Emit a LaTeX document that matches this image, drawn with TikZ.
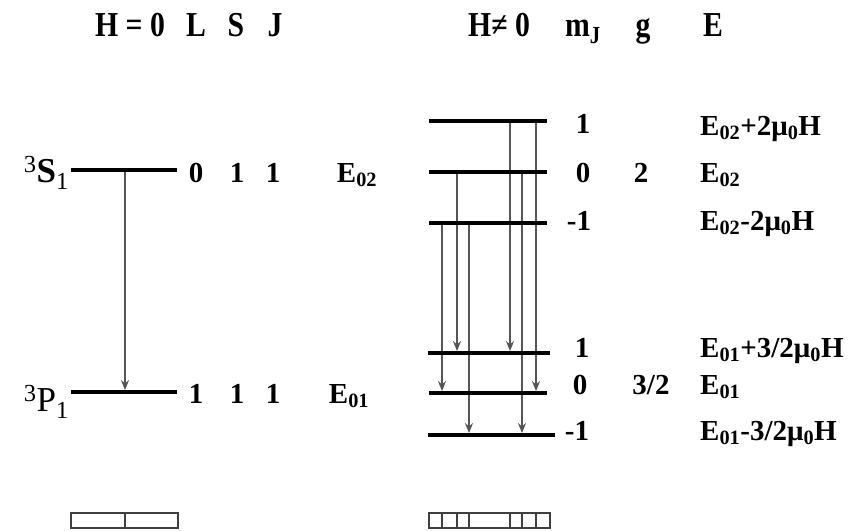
\documentclass[tikz,border=0pt]{standalone}
\usepackage{fontspec}
\setmainfont{Liberation Serif}
\newfontfamily\headfont[FakeStretch=0.85]{Liberation Serif}
\usepackage{xcolor}
\usetikzlibrary{arrows.meta, calc, backgrounds}
\definecolor{ink}{HTML}{000000}
\definecolor{trans}{HTML}{555555}

\begin{document}
\begin{tikzpicture}[x=1pt, y=-1pt,
  lvl/.style={fill=ink, inner sep=0pt, minimum height=3.4pt},
  hd/.style={font=\headfont\bfseries\fontsize{35}{37}\selectfont, anchor=base, inner sep=0pt},
  nm/.style={font=\bfseries\fontsize{29}{31}\selectfont, anchor=base, inner sep=0pt},
  en/.style={nm, anchor=base west},
  term/.style={font=\fontsize{35}{37}\selectfont, anchor=base east, inner sep=0pt},
  arr/.style={-{Stealth[length=10pt, width=8pt]}, line width=1.6pt, draw=trans, fill=trans},
  spec/.style={draw=ink!75, line width=2.2pt, inner sep=0pt}
]
\useasboundingbox (0,0) rectangle (850,530);

% column heads
\node[hd] (hzero) at (130,36) {H = 0};
\node[hd] (hL) at (196,36) {L};
\node[hd] (hS) at (236,36) {S};
\node[hd] (hJ) at (275,36) {J};
\node[hd] (hfield) at (499,36) {H≠ 0};
\node[hd] (hmj) at (583,36) {m\textsubscript{J}};
\node[hd] (hg) at (643,36) {g};
\node[hd] (hE) at (713,36) {E};

% levels without field
\node[lvl, minimum width=106pt] (S1) at (124,170) {};
\node[lvl, minimum width=106pt] (P1) at (124,392) {};
\node[term] (termS) at (69,182) {\textsuperscript{3}\textbf{S}\textsubscript{1}};
\node[term] (termP) at (69,411) {\textsuperscript{3}P\textsubscript{1}};

\node[nm] (sL) at (196,182) {0};
\node[nm] (sS) at (237,182) {1};
\node[nm] (sJ) at (273,182) {1};
\node[nm] (sE) at (357,182) {E\textsubscript{02}};
\node[nm] (pL) at (196,403) {1};
\node[nm] (pS) at (237,403) {1};
\node[nm] (pJ) at (273,403) {1};
\node[nm] (pE) at (349,403) {E\textsubscript{01}};

% split levels
\node[lvl, minimum width=118pt] (up) at (488,121) {};
\node[lvl, minimum width=118pt] (u0) at (488,172) {};
\node[lvl, minimum width=118pt] (um) at (488,223) {};
\node[lvl, minimum width=122pt] (lp) at (489,353) {};
\node[lvl, minimum width=118pt] (l0) at (488,393) {};
\node[lvl, minimum width=127pt] (lm) at (491.5,435) {};

\node[nm] (mup) at (583,133) {1};
\node[nm] (mu0) at (583,182) {0};
\node[nm] (mum) at (579,230) {-1};
\node[nm] (gu) at (641,182) {2};
\node[en] (Eup) at (700,135) {E\textsubscript{02}+2μ\textsubscript{0}H};
\node[en] (Eu0) at (700,182) {E\textsubscript{02}};
\node[en] (Eum) at (700,230) {E\textsubscript{02}-2μ\textsubscript{0}H};

\node[nm] (mlp) at (582,357) {1};
\node[nm] (ml0) at (580,394) {0};
\node[nm] (mlm) at (577,440) {-1};
\node[nm] (gl) at (651,394) {3/2};
\node[en] (Elp) at (700,357) {E\textsubscript{01}+3/2μ\textsubscript{0}H};
\node[en] (El0) at (700,394) {E\textsubscript{01}};
\node[en] (Elm) at (700,440) {E\textsubscript{01}-3/2μ\textsubscript{0}H};

% transitions
\coordinate (t0) at (125,0);
\coordinate (ta) at (442,0);
\coordinate (tb) at (457,0);
\coordinate (tc) at (469,0);
\coordinate (td) at (510,0);
\coordinate (te) at (522,0);
\coordinate (tf) at (536,0);

\begin{scope}[on background layer]
\draw[arr] (t0 |- S1.south) -- (t0 |- P1.north);
\draw[arr] (ta |- um.south) -- (ta |- l0.north);
\draw[arr] (tb |- u0.south) -- (tb |- lp.north);
\draw[arr] (tc |- um.south) -- (tc |- lm.north);
\draw[arr] (td |- up.south) -- (td |- lp.north);
\draw[arr] (te |- u0.south) -- (te |- lm.north);
\draw[arr] (tf |- up.south) -- (tf |- l0.north);
\end{scope}

% spectra
\node[spec, minimum width=107pt, minimum height=15pt] (specL) at (124.5,520.5) {};
\draw[spec] (t0 |- specL.north) -- (t0 |- specL.south);
\node[spec, minimum width=121pt, minimum height=15pt] (specR) at (489.5,520.5) {};
\foreach \t in {ta,tb,tc,td,te,tf}
  \draw[spec] (\t |- specR.north) -- (\t |- specR.south);
\end{tikzpicture}
\end{document}
